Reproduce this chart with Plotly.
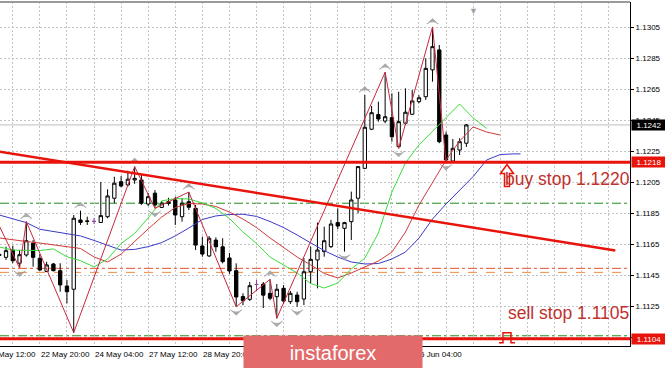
import plotly.graph_objects as go

# ---------------- data ----------------
bar_index = list(range(70))
open_ = [1.11578, 1.11566, 1.11613, 1.11528, 1.11581, 1.11656, 1.1156, 1.11475, 1.11523, 1.1148,
         1.11381, 1.1136, 1.11807, 1.11801, 1.11798, 1.11791, 1.11828, 1.11947, 1.12054, 1.12033,
         1.12065, 1.12065, 1.1191, 1.1198, 1.11888, 1.11925, 1.11936, 1.11828, 1.11925, 1.11882,
         1.11639, 1.11575, 1.11677, 1.11634, 1.11562, 1.1148, 1.11313, 1.11295, 1.11391, 1.11393,
         1.11334, 1.11312, 1.11366, 1.1128, 1.11323, 1.11297, 1.11473, 1.11549, 1.11603, 1.11635,
         1.1179, 1.11753, 1.11796, 1.11947, 1.1214, 1.12392, 1.12487, 1.12445, 1.12467, 1.1228,
         1.12431, 1.12489, 1.1257, 1.12602, 1.12775, 1.12904, 1.12355, 1.12187, 1.12258, 1.12302]
high = [1.1161, 1.11635, 1.11641, 1.11613, 1.11796, 1.11677, 1.11587, 1.11537, 1.1153, 1.11528,
        1.1142, 1.11839, 1.11867, 1.11828, 1.1182, 1.12052, 1.12005, 1.12086, 1.1209, 1.12125,
        1.12151, 1.12104, 1.11981, 1.12, 1.1193, 1.1195, 1.11957, 1.11947, 1.11987, 1.11904,
        1.11699, 1.11703, 1.11695, 1.11689, 1.11594, 1.11527, 1.11334, 1.11407, 1.1142, 1.11407,
        1.11424, 1.11394, 1.11387, 1.11349, 1.11344, 1.11562, 1.11635, 1.1179, 1.11764, 1.11807,
        1.11882, 1.11795, 1.1199, 1.12155, 1.12613, 1.12542, 1.1257, 1.1276, 1.12624, 1.12634,
        1.12656, 1.12645, 1.12612, 1.1285, 1.13052, 1.12936, 1.12376, 1.12329, 1.12334, 1.12426]
low = [1.1155, 1.11549, 1.11528, 1.11497, 1.1157, 1.11506, 1.1148, 1.1147, 1.11475, 1.11344,
       1.11269, 1.1108, 1.11775, 1.11775, 1.1178, 1.1179, 1.11818, 1.11915, 1.12018, 1.12026,
       1.1204, 1.11904, 1.11897, 1.11882, 1.11884, 1.119, 1.11775, 1.11796, 1.11871, 1.11613,
       1.1157, 1.11568, 1.11602, 1.11527, 1.11459, 1.11247, 1.11257, 1.11284, 1.1135, 1.11239,
       1.1129, 1.11173, 1.11265, 1.11265, 1.11247, 1.11258, 1.11398, 1.11366, 1.1157, 1.11626,
       1.11747, 1.11603, 1.11678, 1.1185, 1.12135, 1.12387, 1.12441, 1.12431, 1.12312, 1.12269,
       1.1242, 1.12484, 1.1256, 1.12581, 1.12699, 1.12302, 1.12183, 1.12183, 1.12226, 1.12278]
close = [1.11585, 1.11609, 1.11544, 1.11583, 1.11673, 1.11566, 1.11484, 1.11517, 1.1148, 1.11388,
         1.11344, 1.11818, 1.11791, 1.11798, 1.11798, 1.11835, 1.11962, 1.12044, 1.12026, 1.1207,
         1.12075, 1.11915, 1.11957, 1.11904, 1.11916, 1.11915, 1.11839, 1.11915, 1.11889, 1.11645,
         1.11587, 1.11689, 1.11634, 1.11538, 1.11478, 1.1131, 1.11286, 1.11383, 1.11391, 1.11322,
         1.11302, 1.1136, 1.11284, 1.11334, 1.1128, 1.11473, 1.11553, 1.11613, 1.11673, 1.11781,
         1.11768, 1.1179, 1.11936, 1.12151, 1.12405, 1.12499, 1.12458, 1.12473, 1.12344, 1.12441,
         1.12502, 1.12575, 1.12595, 1.12785, 1.12925, 1.12312, 1.12194, 1.12269, 1.12312, 1.1242]
doji_index = [14, 38]

# Alligator lines (lips shifted 3, teeth shifted 5, jaw shifted 8)
lips_index = list(range(0, 73, 2))
lips = [1.11633, 1.11613, 1.11611, 1.1161, 1.1162, 1.1157, 1.11544, 1.11504, 1.11555, 1.11655,
        1.1172, 1.1182, 1.1193, 1.11945, 1.11942, 1.11917, 1.11881, 1.11817, 1.11729, 1.11655,
        1.11568, 1.11517, 1.11465, 1.11397, 1.11368, 1.114, 1.11491, 1.11561, 1.11723, 1.11987,
        1.12175, 1.12291, 1.12381, 1.12465, 1.12555, 1.12465, 1.12397]
teeth_index = list(range(0, 75, 2))
teeth = [1.11691, 1.11678, 1.11668, 1.11658, 1.11645, 1.11634, 1.11623, 1.11568, 1.11536, 1.11587,
         1.11671, 1.11749, 1.11826, 1.11887, 1.11913, 1.1191, 1.11894, 1.11858, 1.11813, 1.11758,
         1.11691, 1.11629, 1.11568, 1.11517, 1.11462, 1.11433, 1.11465, 1.11504, 1.11542, 1.116,
         1.11729, 1.11903, 1.12052, 1.12194, 1.12316, 1.12407, 1.12374, 1.12355]
jaw_index = list(range(0, 77, 2)) + [77]
jaw = [1.11839, 1.11815, 1.1179, 1.11747, 1.11733, 1.11721, 1.11704, 1.11675, 1.11646, 1.11613,
       1.11617, 1.11635, 1.11661, 1.11704, 1.11755, 1.1181, 1.11833, 1.11842, 1.11844, 1.1183,
       1.11797, 1.11758, 1.1171, 1.11658, 1.11609, 1.11568, 1.11536, 1.11523, 1.11526, 1.11555,
       1.116, 1.1169, 1.11813, 1.1191, 1.12, 1.12087, 1.12194, 1.12229, 1.12233, 1.12233]

zigzag_index = [-1, 3, 4, 11, 20, 23, 28, 35, 40, 41, 57, 59, 64, 66]
zigzag_price = [1.1186, 1.11497, 1.11796, 1.1108, 1.12151, 1.11882, 1.11987, 1.11247, 1.11424,
                1.11173, 1.1276, 1.12269, 1.13052, 1.12183]

fractal_up_index = [4, 12, 20, 28, 40, 54, 57, 64]
fractal_down_index = [3, 23, 35, 41, 44, 51, 59, 66]

buy_level = 1.1218
sell_level = 1.1104
bid_price = 1.1242
green_levels = [1.11915, 1.1106]
orange_levels = [1.11495, 1.11469]
trend_index = [0, 91]
trend_price = [1.12248, 1.1161]

buy_text = "buy stop 1.1220"
sell_text = "sell stop 1.1105"
buy_text_pos = (74.4, 1.12071)
sell_text_pos = (74.9, 1.11207)
arrow_anchor = (75.0, 1.12165)
pulse_anchor = (75.0, 1.1104)
shift_marker_index = 70

price_ticks = [1.1105, 1.1125, 1.1145, 1.1165, 1.1185, 1.1205, 1.1225, 1.1245, 1.1265, 1.1285, 1.1305]
time_label_index = [-2, 6, 14, 22, 30, 62]
time_labels = ["21 May 12:00", "22 May 20:00", "24 May 04:00", "27 May 12:00", "28 May 20:00", "5 Jun 04:00"]
grid_index = list(range(2, 94, 4))

X_RANGE = [0.11, 93.17]
Y_RANGE = [1.10994, 1.13213]

# ---------------- figure ----------------
RED = "#E8140C"
fig = go.Figure()

for lv in green_levels:
    fig.add_shape(type="line", xref="paper", x0=0, x1=1, yref="y", y0=lv, y1=lv,
                  line=dict(color="#1E8C1E", width=1, dash="dashdot"), layer="below")
fig.add_shape(type="line", xref="paper", x0=0, x1=1, yref="y", y0=orange_levels[0], y1=orange_levels[0],
              line=dict(color="#E8502A", width=1, dash="dashdot"), layer="below")
fig.add_shape(type="line", xref="paper", x0=0, x1=1, yref="y", y0=orange_levels[1], y1=orange_levels[1],
              line=dict(color="#F08A40", width=1, dash="dash"), layer="below")
fig.add_shape(type="line", xref="paper", x0=0, x1=1, yref="y", y0=bid_price, y1=bid_price,
              line=dict(color="#BDBDBD", width=1), layer="below")

# alligator
fig.add_trace(go.Scatter(x=jaw_index, y=jaw, mode="lines", line=dict(color="#3A3AC8", width=1), hoverinfo="skip"))
fig.add_trace(go.Scatter(x=teeth_index, y=teeth, mode="lines", line=dict(color="#D03A3A", width=1), hoverinfo="skip"))
fig.add_trace(go.Scatter(x=lips_index, y=lips, mode="lines", line=dict(color="#3CDC3C", width=1), hoverinfo="skip"))

# candles
norm = [i for i in bar_index if i not in doji_index]
fig.add_trace(go.Candlestick(
    x=norm, open=[open_[i] for i in norm], high=[high[i] for i in norm],
    low=[low[i] for i in norm], close=[close[i] for i in norm],
    increasing=dict(fillcolor="white", line=dict(color="black", width=1)),
    decreasing=dict(fillcolor="black", line=dict(color="black", width=1)),
    whiskerwidth=0, hoverinfo="skip"))
fig.add_trace(go.Candlestick(
    x=doji_index, open=[open_[i] for i in doji_index], high=[high[i] for i in doji_index],
    low=[low[i] for i in doji_index], close=[close[i] for i in doji_index],
    increasing=dict(fillcolor="#9040A0", line=dict(color="#9040A0", width=1)),
    decreasing=dict(fillcolor="#9040A0", line=dict(color="#9040A0", width=1)),
    whiskerwidth=0, hoverinfo="skip"))

# zigzag
fig.add_trace(go.Scatter(x=zigzag_index, y=zigzag_price, mode="lines",
                         line=dict(color="#C8283C", width=1), hoverinfo="skip"))

# fractals
FR_OFF = 0.00055
fig.add_trace(go.Scatter(x=fractal_up_index, y=[high[i] + FR_OFF for i in fractal_up_index], mode="markers",
                         marker=dict(symbol="arrow-wide", angle=0, size=8, color="#ABABAB",
                                     line=dict(color="#8C8C8C", width=0.5)), hoverinfo="skip"))
fig.add_trace(go.Scatter(x=fractal_down_index, y=[low[i] - FR_OFF for i in fractal_down_index], mode="markers",
                         marker=dict(symbol="arrow-wide", angle=180, size=8, color="#ABABAB",
                                     line=dict(color="#8C8C8C", width=0.5)), hoverinfo="skip"))

# thick lines
fig.add_trace(go.Scatter(x=trend_index, y=trend_price, mode="lines", line=dict(color=RED, width=2.5), hoverinfo="skip"))
for lv in (buy_level, sell_level):
    fig.add_shape(type="line", xref="paper", x0=0, x1=1, yref="y", y0=lv, y1=lv,
                  line=dict(color=RED, width=3), layer="above")

# order arrows (pixel-sized paths anchored at data points)
fig.add_shape(type="path", xref="x", yref="y", xsizemode="pixel", ysizemode="pixel",
              xanchor=arrow_anchor[0], yanchor=arrow_anchor[1],
              path="M -2.5,-22 L -2.5,-9 L -6.5,-9 L 0,0 L 6.5,-9 L 2.5,-9 L 2.5,-22 Z",
              line=dict(color=RED, width=1.5), fillcolor="rgba(0,0,0,0)", layer="above")
fig.add_shape(type="path", xref="x", yref="y", xsizemode="pixel", ysizemode="pixel",
              xanchor=pulse_anchor[0], yanchor=pulse_anchor[1],
              path="M -8,-4 L -4,-4 L -4,6 L 4,6 L 4,-4 L 8,-4",
              line=dict(color=RED, width=1.5), layer="above")

ann = []
ann.append(dict(x=buy_text_pos[0], y=buy_text_pos[1], xref="x", yref="y", text=buy_text, showarrow=False,
                xanchor="left", yanchor="middle", font=dict(size=17.5, color="#C0302C", family="Arial")))
ann.append(dict(x=sell_text_pos[0], y=sell_text_pos[1], xref="x", yref="y", text=sell_text, showarrow=False,
                xanchor="left", yanchor="middle", font=dict(size=17.5, color="#C0302C", family="Arial")))
ann.append(dict(x=shift_marker_index, y=1, xref="x", yref="paper", text="▼", showarrow=False,
                yanchor="top", font=dict(size=9, color="#A0A0A0")))

span = X_RANGE[1] - X_RANGE[0]
for i, t in zip(time_label_index, time_labels):
    ann.append(dict(x=(i - X_RANGE[0]) / span, y=0, xref="paper", yref="paper", text=t, showarrow=False,
                    xanchor="left", yanchor="top", yshift=-2, xshift=-1,
                    font=dict(size=8, color="black", family="Arial")))

for p, bg in ((bid_price, "black"), (buy_level, RED), (sell_level, RED)):
    ann.append(dict(x=1, y=p, xref="paper", yref="y", text=f"{p:.4f}", showarrow=False,
                    xanchor="left", xshift=1, bgcolor=bg, width=34, height=10, borderpad=0,
                    font=dict(size=8, color="white", family="Arial")))

ann.append(dict(x=333 / 630, y=-0.019, xref="paper", yref="paper", text="instaforex", showarrow=False,
                xanchor="center", yanchor="middle", bgcolor="#E26A6A", width=176, height=31,
                font=dict(size=20, color="white", family="Arial")))

fig.update_layout(
    width=665, height=368, margin=dict(l=0, r=35, t=2, b=22),
    paper_bgcolor="white", plot_bgcolor="white", showlegend=False,
    annotations=ann, boxgap=0.3,
    xaxis=dict(range=X_RANGE, rangeslider=dict(visible=False), tickvals=grid_index, showticklabels=False,
               showgrid=True, gridcolor="#C4C4C4", griddash="2px,2px", gridwidth=1, zeroline=False,
               showline=True, linecolor="black", linewidth=1, ticks=""),
    yaxis=dict(range=Y_RANGE, side="right", tickvals=price_ticks, ticktext=[f"{v:.4f}" for v in price_ticks],
               showgrid=True, gridcolor="#C4C4C4", griddash="2px,2px", gridwidth=1, zeroline=False,
               showline=True, linecolor="black", linewidth=1, ticks="outside", ticklen=3, tickcolor="black",
               tickfont=dict(size=8, color="black", family="Arial")),
)
fig.add_shape(type="line", xref="paper", yref="paper", x0=0, x1=1, y0=1, y1=1,
              line=dict(color="#9A9A9A", width=2))

fig.write_html("out.html")
